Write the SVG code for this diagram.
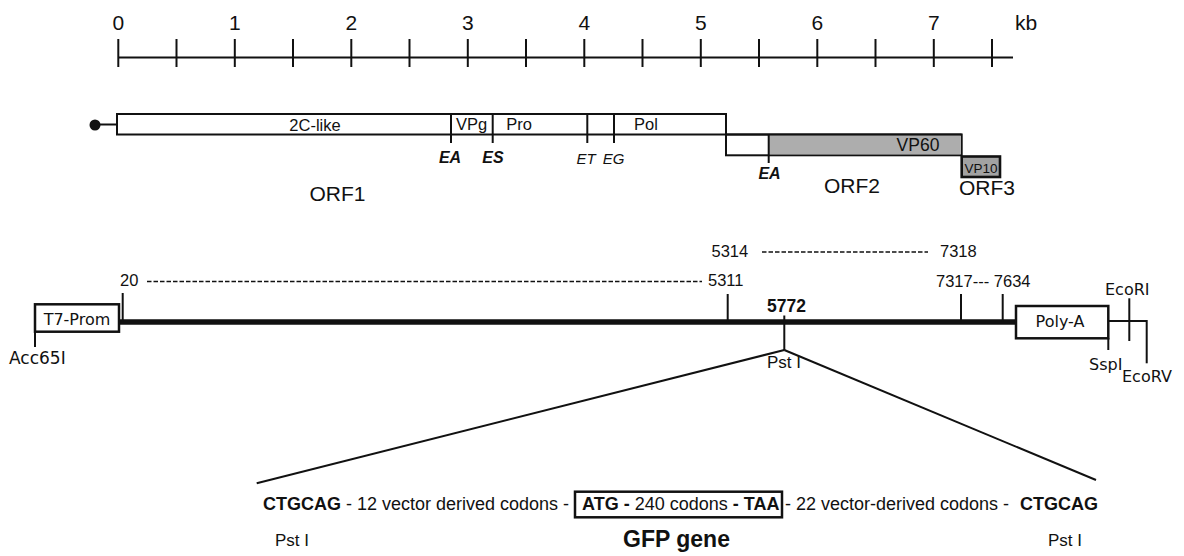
<svg xmlns="http://www.w3.org/2000/svg" width="1184" height="556" viewBox="0 0 1184 556">
<style>
text{font-family:"Liberation Sans",Arial,sans-serif;fill:#111}
.sc{font-size:21px;text-anchor:middle}
.bx{font-size:16.5px;text-anchor:middle}
.orf{font-size:21px;text-anchor:middle}
.ebi{font-size:16px;font-weight:bold;font-style:italic;text-anchor:middle}
.ei{font-size:15px;font-style:italic;text-anchor:middle}
.num{font-size:16.5px}
.geo{font-family:"DejaVu Sans",sans-serif;font-size:15.5px}
.seq{font-size:18px}
.b{font-weight:bold}
.ln{stroke:#111;stroke-width:2;fill:none}
.box{stroke:#111;stroke-width:2;fill:#fff}
.pbox{stroke:#111;stroke-width:2.5;fill:#fff}
.dash{stroke:#111;stroke-width:1.5;stroke-dasharray:4.5 2;fill:none}
</style>
<rect width="1184" height="556" fill="#fff"/>

<g id="scale">
<line class="ln" x1="118" y1="57.5" x2="1013" y2="57.5"/>
<g class="ln">
<line x1="118.3" y1="39" x2="118.3" y2="67"/>
<line x1="176.5" y1="39" x2="176.5" y2="67"/>
<line x1="234.8" y1="39" x2="234.8" y2="67"/>
<line x1="293" y1="39" x2="293" y2="67"/>
<line x1="351.3" y1="39" x2="351.3" y2="67"/>
<line x1="409.5" y1="39" x2="409.5" y2="67"/>
<line x1="467.8" y1="39" x2="467.8" y2="67"/>
<line x1="526" y1="39" x2="526" y2="67"/>
<line x1="584.3" y1="39" x2="584.3" y2="67"/>
<line x1="642.5" y1="39" x2="642.5" y2="67"/>
<line x1="700.8" y1="39" x2="700.8" y2="67"/>
<line x1="759" y1="39" x2="759" y2="67"/>
<line x1="817.3" y1="39" x2="817.3" y2="67"/>
<line x1="875.5" y1="39" x2="875.5" y2="67"/>
<line x1="933.8" y1="39" x2="933.8" y2="67"/>
<line x1="992" y1="39" x2="992" y2="67"/>
</g>
<text class="sc" x="118.3" y="30">0</text>
<text class="sc" x="234.8" y="30">1</text>
<text class="sc" x="351.3" y="30">2</text>
<text class="sc" x="467.8" y="30">3</text>
<text class="sc" x="584.3" y="30">4</text>
<text class="sc" x="700.8" y="30">5</text>
<text class="sc" x="817.3" y="30">6</text>
<text class="sc" x="933.8" y="30">7</text>
<text x="1015" y="30" style="font-size:21px">kb</text>
</g>

<g id="orf1">
<circle cx="95" cy="125" r="5.5" fill="#111"/>
<line class="ln" x1="99" y1="124.5" x2="117" y2="124.5"/>
<rect class="box" x="117" y="114" width="609" height="20.5"/>
<line class="ln" x1="451" y1="114" x2="451" y2="143"/>
<line class="ln" x1="492.7" y1="114" x2="492.7" y2="143"/>
<line class="ln" x1="587.3" y1="114" x2="587.3" y2="143"/>
<line class="ln" x1="614" y1="114" x2="614" y2="143"/>
<text class="bx" x="315" y="130.5">2C-like</text>
<text class="bx" x="471.5" y="130">VPg</text>
<text class="bx" x="519" y="130">Pro</text>
<text class="bx" x="646" y="130">Pol</text>
<text class="ebi" x="450" y="163">EA</text>
<text class="ebi" x="493" y="163">ES</text>
<text class="ei" x="586" y="164">ET</text>
<text class="ei" x="613.5" y="164">EG</text>
<text class="orf" x="337.5" y="201">ORF1</text>
</g>

<g id="orf2">
<rect class="box" x="726" y="134.5" width="235.7" height="20.8"/>
<rect x="768.7" y="135.5" width="192" height="18.8" fill="#adadad"/>
<line class="ln" x1="726" y1="134.5" x2="961.7" y2="134.5"/>
<line class="ln" x1="768.7" y1="134.5" x2="768.7" y2="163"/>
<text x="918" y="150.5" style="font-size:17.5px;text-anchor:middle">VP60</text>
<text class="ebi" x="769.5" y="179.3">EA</text>
<text class="orf" x="852" y="193">ORF2</text>
</g>

<g id="orf3">
<rect x="961.7" y="156.5" width="38.3" height="20.5" fill="#a2a2a2" stroke="#111" stroke-width="2.6"/>
<text x="981" y="172.5" style="font-size:13.5px;text-anchor:middle">VP10</text>
<text class="orf" x="987" y="194.5">ORF3</text>
</g>

<g id="backbone">
<line x1="119" y1="322" x2="1016" y2="322" stroke="#111" stroke-width="5.5"/>
</g>

<g id="t7prom">
<rect class="pbox" x="35" y="304.3" width="84" height="27.4"/>
<text class="geo" x="77" y="325" text-anchor="middle" style="font-size:16px">T7-Prom</text>
<line class="ln" x1="35" y1="331.7" x2="35" y2="347"/>
<text class="geo" x="9" y="364" style="font-size:17px">Acc65I</text>
</g>

<g id="site20">
<line class="ln" x1="122.7" y1="293" x2="122.7" y2="322"/>
<text class="num" x="120" y="286">20</text>
<line class="dash" x1="147" y1="281.5" x2="702" y2="281.5"/>
<text class="num" x="708" y="285.5">5311</text>
</g>

<g id="site5311">
<line class="ln" x1="727.7" y1="294" x2="727.7" y2="322"/>
<text class="num" x="711.5" y="257">5314</text>
<line class="dash" x1="762" y1="252" x2="928" y2="252"/>
<text class="num" x="940" y="257">7318</text>
</g>

<g id="site5772">
<text x="786.5" y="311.7" style="font-size:17.5px;font-weight:bold;text-anchor:middle">5772</text>
<line class="ln" x1="784.3" y1="315.5" x2="784.3" y2="350"/>
<text x="784" y="368" style="font-size:17px;text-anchor:middle">Pst I</text>
</g>

<g id="site7317">
<line class="ln" x1="961" y1="294" x2="961" y2="322"/>
<line class="ln" x1="1002.7" y1="294" x2="1002.7" y2="322"/>
<text class="num" x="936" y="286.7" xml:space="preserve">7317--- 7634</text>
</g>

<g id="polya">
<rect class="pbox" x="1016" y="306" width="92.3" height="32.3"/>
<text class="geo" x="1060" y="327.3" text-anchor="middle" style="font-size:16px">Poly-A</text>
<line class="ln" x1="1108.3" y1="338" x2="1108.3" y2="350"/>
<text class="geo" x="1089" y="370" style="font-size:16px">SspI</text>
</g>

<g id="ecori">
<line class="ln" x1="1108.3" y1="321" x2="1146.7" y2="321"/>
<line class="ln" x1="1129.3" y1="298.3" x2="1129.3" y2="341"/>
<text class="geo" x="1105" y="295" style="font-size:16px">EcoRI</text>
</g>

<g id="ecorv">
<line class="ln" x1="1146.7" y1="320" x2="1146.7" y2="363.3"/>
<text class="geo" x="1122" y="381.7" style="font-size:16px">EcoRV</text>
</g>

<g id="connectors">
<line class="ln" x1="784.3" y1="350" x2="256.7" y2="483.3"/>
<line class="ln" x1="784.3" y1="350" x2="1096" y2="480"/>
</g>

<g id="insert">
<text class="seq" x="263" y="510" xml:space="preserve"><tspan class="b">CTGCAG</tspan> - 12 vector derived codons - </text>
<text class="seq" x="582" y="510" xml:space="preserve"><tspan class="b">ATG - </tspan>240 codons<tspan class="b"> - TAA</tspan></text>
<text class="seq" x="785" y="510" xml:space="preserve">- 22 vector-derived codons -  </text>
<text class="seq b" x="1020" y="510">CTGCAG</text>
<text x="275" y="546" style="font-size:17px">Pst I</text>
<text x="1048" y="546" style="font-size:17px">Pst I</text>
</g>

<g id="gfp">
<rect x="575" y="491.7" width="207" height="25.6" fill="none" stroke="#111" stroke-width="2.5"/>
<text x="623" y="547.3" style="font-size:23px;font-weight:bold">GFP gene</text>
</g>
</svg>
